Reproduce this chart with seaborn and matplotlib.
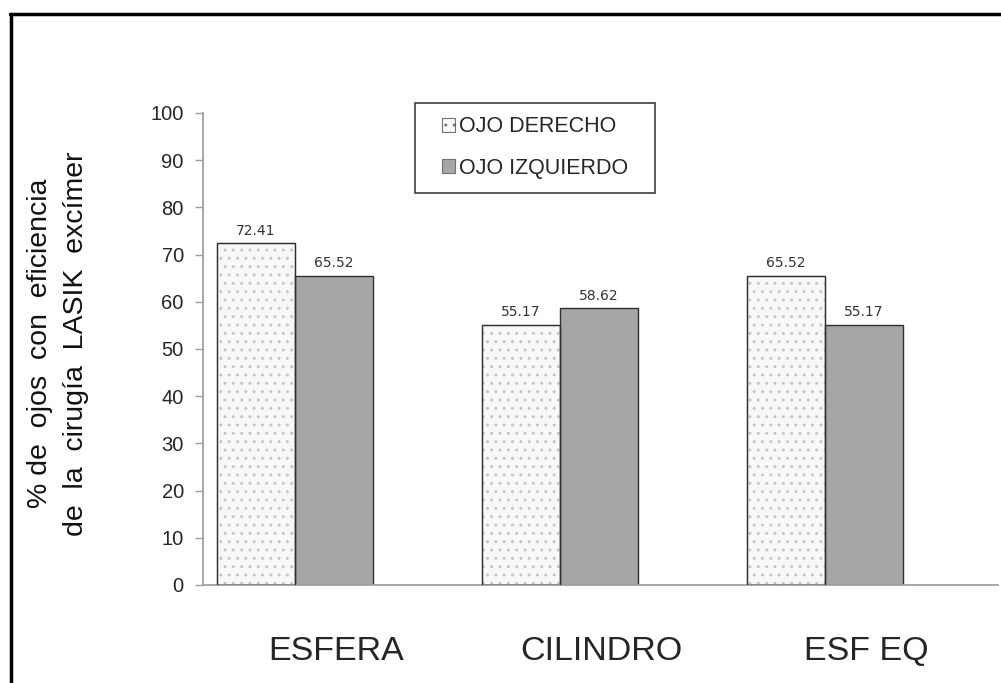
import numpy as np
import pandas as pd
import matplotlib
matplotlib.use("Agg")
import matplotlib.pyplot as plt
import matplotlib.transforms as mtransforms
from matplotlib.patches import Patch, Rectangle
from matplotlib.lines import Line2D
import seaborn as sns

# datos
categorias = ["ESFERA", "CILINDRO", "ESF EQ"]
ojo_derecho = [72.41, 55.17, 65.52]
ojo_izquierdo = [65.52, 58.62, 55.17]
series = ["OJO DERECHO", "OJO IZQUIERDO"]
y_ticks = [0, 10, 20, 30, 40, 50, 60, 70, 80, 90, 100]

df = pd.DataFrame({
    "categoria": categorias * 2,
    "ojo": [series[0]] * 3 + [series[1]] * 3,
    "valor": ojo_derecho + ojo_izquierdo,
})

sns.set_style("white")
plt.rcParams["font.family"] = ["Liberation Sans", "DejaVu Sans"]
plt.rcParams["hatch.linewidth"] = 0.9

colores = {series[0]: "#f8f8f8", series[1]: "#a6a6a6"}

fig = plt.figure(figsize=(10.01, 6.83), dpi=100)
ax = fig.add_axes([0.203, 0.1435, 0.794, 0.6911])

sns.barplot(data=df, x="categoria", y="valor", hue="ojo", order=categorias,
            hue_order=series, palette=colores, width=0.59, saturation=1,
            edgecolor="#303030", linewidth=1.0, legend=False, ax=ax)

# trama de puntos en ojo derecho (puntos claros + contorno oscuro encima)
for bar in ax.containers[0]:
    bar.set_hatch("..")
    bar.set_edgecolor("#c4c4c4")
    ax.add_patch(Rectangle(bar.get_xy(), bar.get_width(), bar.get_height(),
                           fill=False, edgecolor="#303030", linewidth=1.0, zorder=3))

# etiquetas de valores
for cont in ax.containers:
    ax.bar_label(cont, fmt="%.2f", padding=4, fontsize=10, color="#333333",
                 family="DejaVu Sans")

ax.set_xlim(-0.347, 2.653)
ax.set_ylim(0, 100)
ax.set_yticks(y_ticks)
ax.tick_params(axis="y", direction="out", length=6, width=1, color="#a0a0a0",
               labelsize=14.5, pad=8, left=True)
ax.tick_params(axis="x", length=0, labelsize=24.5, pad=37)
offset = mtransforms.ScaledTranslation(0.41, 0, fig.dpi_scale_trans)
for lbl in ax.get_xticklabels():
    lbl.set_transform(lbl.get_transform() + offset)
ax.set_xlabel("")
ax.set_ylabel("")

for s in ["top", "right"]:
    ax.spines[s].set_visible(False)
for s in ["left", "bottom"]:
    ax.spines[s].set_color("#a0a0a0")
    ax.spines[s].set_linewidth(1.3)

# leyenda (sin marco propio; el recuadro se dibuja aparte)
handles = [
    Patch(facecolor=colores[series[0]], edgecolor="#707070", hatch="..", linewidth=0.8),
    Patch(facecolor=colores[series[1]], edgecolor="#707070", linewidth=0.8),
]
leg = fig.legend(handles, series, loc="center", bbox_to_anchor=(0.5345, 0.784),
                 fontsize=15.5, frameon=False, handlelength=0.6,
                 handleheight=0.6, handletextpad=0.15, labelspacing=0.95,
                 borderpad=0.5, borderaxespad=0)
fig.add_artist(Rectangle((0.4146, 0.7174), 0.2398, 0.1318, fill=False,
                         edgecolor="#404040", linewidth=1.2,
                         transform=fig.transFigure))

# titulo del eje y en dos lineas
fig.text(0.058, 0.497, "% de  ojos  con  eficiencia\nde  la  cirugía  LASIK  excímer",
         rotation=90, ha="center", va="center", multialignment="center",
         fontsize=20.5, linespacing=1.5, color="#111111")

# marco exterior
fig.add_artist(Line2D([0.0105, 0.0105], [0, 0.9795], color="black", lw=2.5,
                      transform=fig.transFigure))
fig.add_artist(Line2D([0.0095, 1.0], [0.9795, 0.9795], color="black", lw=2.5,
                      transform=fig.transFigure))

fig.savefig("out.png", dpi=100, facecolor="white")
